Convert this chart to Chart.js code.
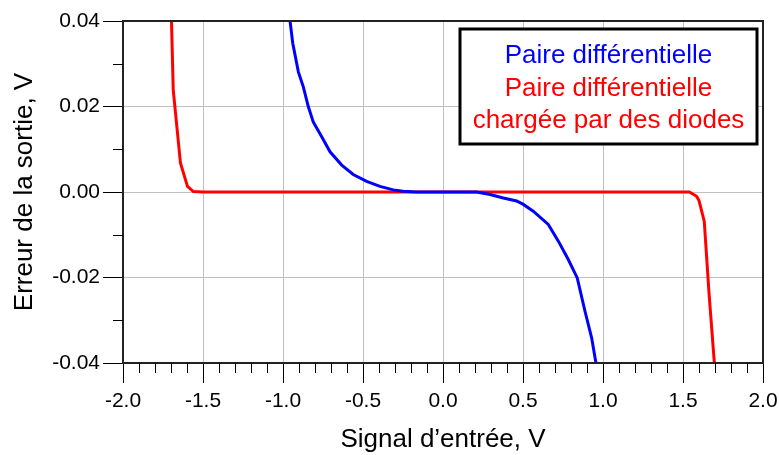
<!DOCTYPE html>
<html>
<head>
<meta charset="utf-8">
<script src="https://cdn.jsdelivr.net/npm/chart.js@4.4.1/dist/chart.umd.min.js"></script>
<style>
  html, body { margin: 0; padding: 0; background: #fff; }
  #wrap { width: 779px; height: 455px; }
</style>
</head>
<body>
<div id="wrap"><canvas id="chart" width="779" height="455"></canvas></div>
<script>
// Data
const blueX = [-0.956, -0.939, -0.904, -0.873, -0.842, -0.811, -0.758, -0.706, -0.633, -0.561, -0.477, -0.394, -0.311, -0.25, -0.164, 0.0, 0.21, 0.294, 0.377, 0.46, 0.502, 0.564, 0.658, 0.721, 0.783, 0.839, 0.8875, 0.929, 0.956];
const blueY = [0.04, 0.0348, 0.0281, 0.0246, 0.020, 0.0164, 0.0129, 0.0094, 0.0063, 0.0041, 0.0025, 0.0013, 0.0005, 0.0002, 0.0, 0.0, 0.0, -0.0006, -0.0014, -0.0021, -0.0029, -0.0045, -0.0076, -0.0115, -0.0158, -0.0201, -0.0279, -0.0341, -0.04];

const redX = [-1.697, -1.686, -1.641, -1.597, -1.56, -1.50, 0.0, 1.54, 1.585, 1.60, 1.633, 1.6625, 1.696];
const redY = [0.04, 0.0239, 0.0068, 0.0013, 0.0001, 0.0, 0.0, 0.0, -0.001, -0.002, -0.0069, -0.0236, -0.04];

const blueLabel = ['Paire différentielle'];
const redLabel = ['Paire différentielle', 'chargée par des diodes'];

const xTitle = 'Signal d\u2019entrée, V';
const yTitle = 'Erreur de la sortie, V';

const FONT = '"Liberation Sans", Arial, sans-serif';

function toPoints(xs, ys) {
    return xs.map((x, i) => ({ x: x, y: ys[i] }));
}

// frame, minor ticks, text legend
const decorPlugin = {
    id: 'decor',
    afterDatasetsDraw(chart) {
        const { ctx, chartArea: a } = chart;
        ctx.save();
        ctx.strokeStyle = '#222';
        ctx.lineWidth = 2;
        ctx.strokeRect(a.left, a.top, a.right - a.left, a.bottom - a.top);
        ctx.restore();
    },
    afterDraw(chart) {
        const { ctx, chartArea: a, scales } = chart;
        ctx.save();
        ctx.strokeStyle = '#000';
        ctx.lineWidth = 1;
        ctx.beginPath();
        for (let i = -20; i <= 20; i++) {
            if (i % 5 === 0) continue;
            const px = Math.round(scales.x.getPixelForValue(i / 10)) + 0.5;
            ctx.moveTo(px, a.bottom);
            ctx.lineTo(px, a.bottom + 10);
        }
        for (let i = -4; i <= 4; i++) {
            if (i % 2 === 0) continue;
            const py = Math.round(scales.y.getPixelForValue(i / 100)) + 0.5;
            ctx.moveTo(a.left - 10, py);
            ctx.lineTo(a.left, py);
        }
        ctx.stroke();

        // legend box
        const w = 297, h = 115;
        const bx = a.right - 6 - w, by = a.top + 8;
        ctx.fillStyle = '#fff';
        ctx.fillRect(bx, by, w, h);
        ctx.strokeStyle = '#000';
        ctx.lineWidth = 3;
        ctx.strokeRect(bx, by, w, h);

        const lines = [];
        blueLabel.forEach(t => lines.push({ t: t, c: '#0000ff' }));
        redLabel.forEach(t => lines.push({ t: t, c: '#ff0000' }));
        ctx.font = '26px ' + FONT;
        ctx.textAlign = 'center';
        ctx.textBaseline = 'alphabetic';
        lines.forEach((l, i) => {
            ctx.fillStyle = l.c;
            ctx.fillText(l.t, bx + w / 2, by + 34 + i * 32.5);
        });
        ctx.restore();
    }
};

const ctx = document.getElementById('chart').getContext('2d');
new Chart(ctx, {
    type: 'scatter',
    data: {
        datasets: [
            {
                label: blueLabel.join(' '),
                data: toPoints(blueX, blueY),
                showLine: true,
                borderColor: '#0000ff',
                borderWidth: 3,
                pointRadius: 0,
                tension: 0
            },
            {
                label: redLabel.join(' '),
                data: toPoints(redX, redY),
                showLine: true,
                borderColor: '#ff0000',
                borderWidth: 3,
                pointRadius: 0,
                tension: 0
            }
        ]
    },
    options: {
        responsive: false,
        animation: false,
        layout: { padding: { top: 21, right: 16, left: 0, bottom: 0 } },
        plugins: {
            legend: { display: false },
            tooltip: { enabled: false }
        },
        scales: {
            x: {
                type: 'linear',
                min: -2,
                max: 2,
                afterFit: (s) => { s.height = 92; s.paddingLeft = 0; s.paddingRight = 0; },
                ticks: {
                    stepSize: 0.5,
                    color: '#000',
                    padding: 6,
                    maxRotation: 0,
                    font: { family: FONT, size: 21 },
                    callback: (v) => (Math.abs(v) < 1e-9 ? 0 : v).toFixed(1)
                },
                grid: {
                    color: '#c0c0c0',
                    lineWidth: 1,
                    tickLength: 20,
                    tickColor: '#000'
                },
                border: { display: false },
                title: {
                    display: true,
                    text: xTitle,
                    color: '#000',
                    font: { family: FONT, size: 26 },
                    padding: { top: 0, bottom: 0 }
                }
            },
            y: {
                type: 'linear',
                min: -0.04,
                max: 0.04,
                afterFit: (s) => { s.width = 123; s.paddingTop = 0; s.paddingBottom = 0; },
                ticks: {
                    stepSize: 0.02,
                    color: '#000',
                    padding: 3,
                    font: { family: FONT, size: 21 },
                    callback: (v) => (Math.abs(v) < 1e-9 ? 0 : v).toFixed(2)
                },
                grid: {
                    color: '#c0c0c0',
                    lineWidth: 1,
                    tickLength: 20,
                    tickColor: '#000'
                },
                border: { display: false },
                title: {
                    display: true,
                    text: yTitle,
                    color: '#000',
                    font: { family: FONT, size: 26 },
                    padding: { top: 9, bottom: 0 }
                }
            }
        }
    },
    plugins: [decorPlugin]
});
</script>
</body>
</html>
